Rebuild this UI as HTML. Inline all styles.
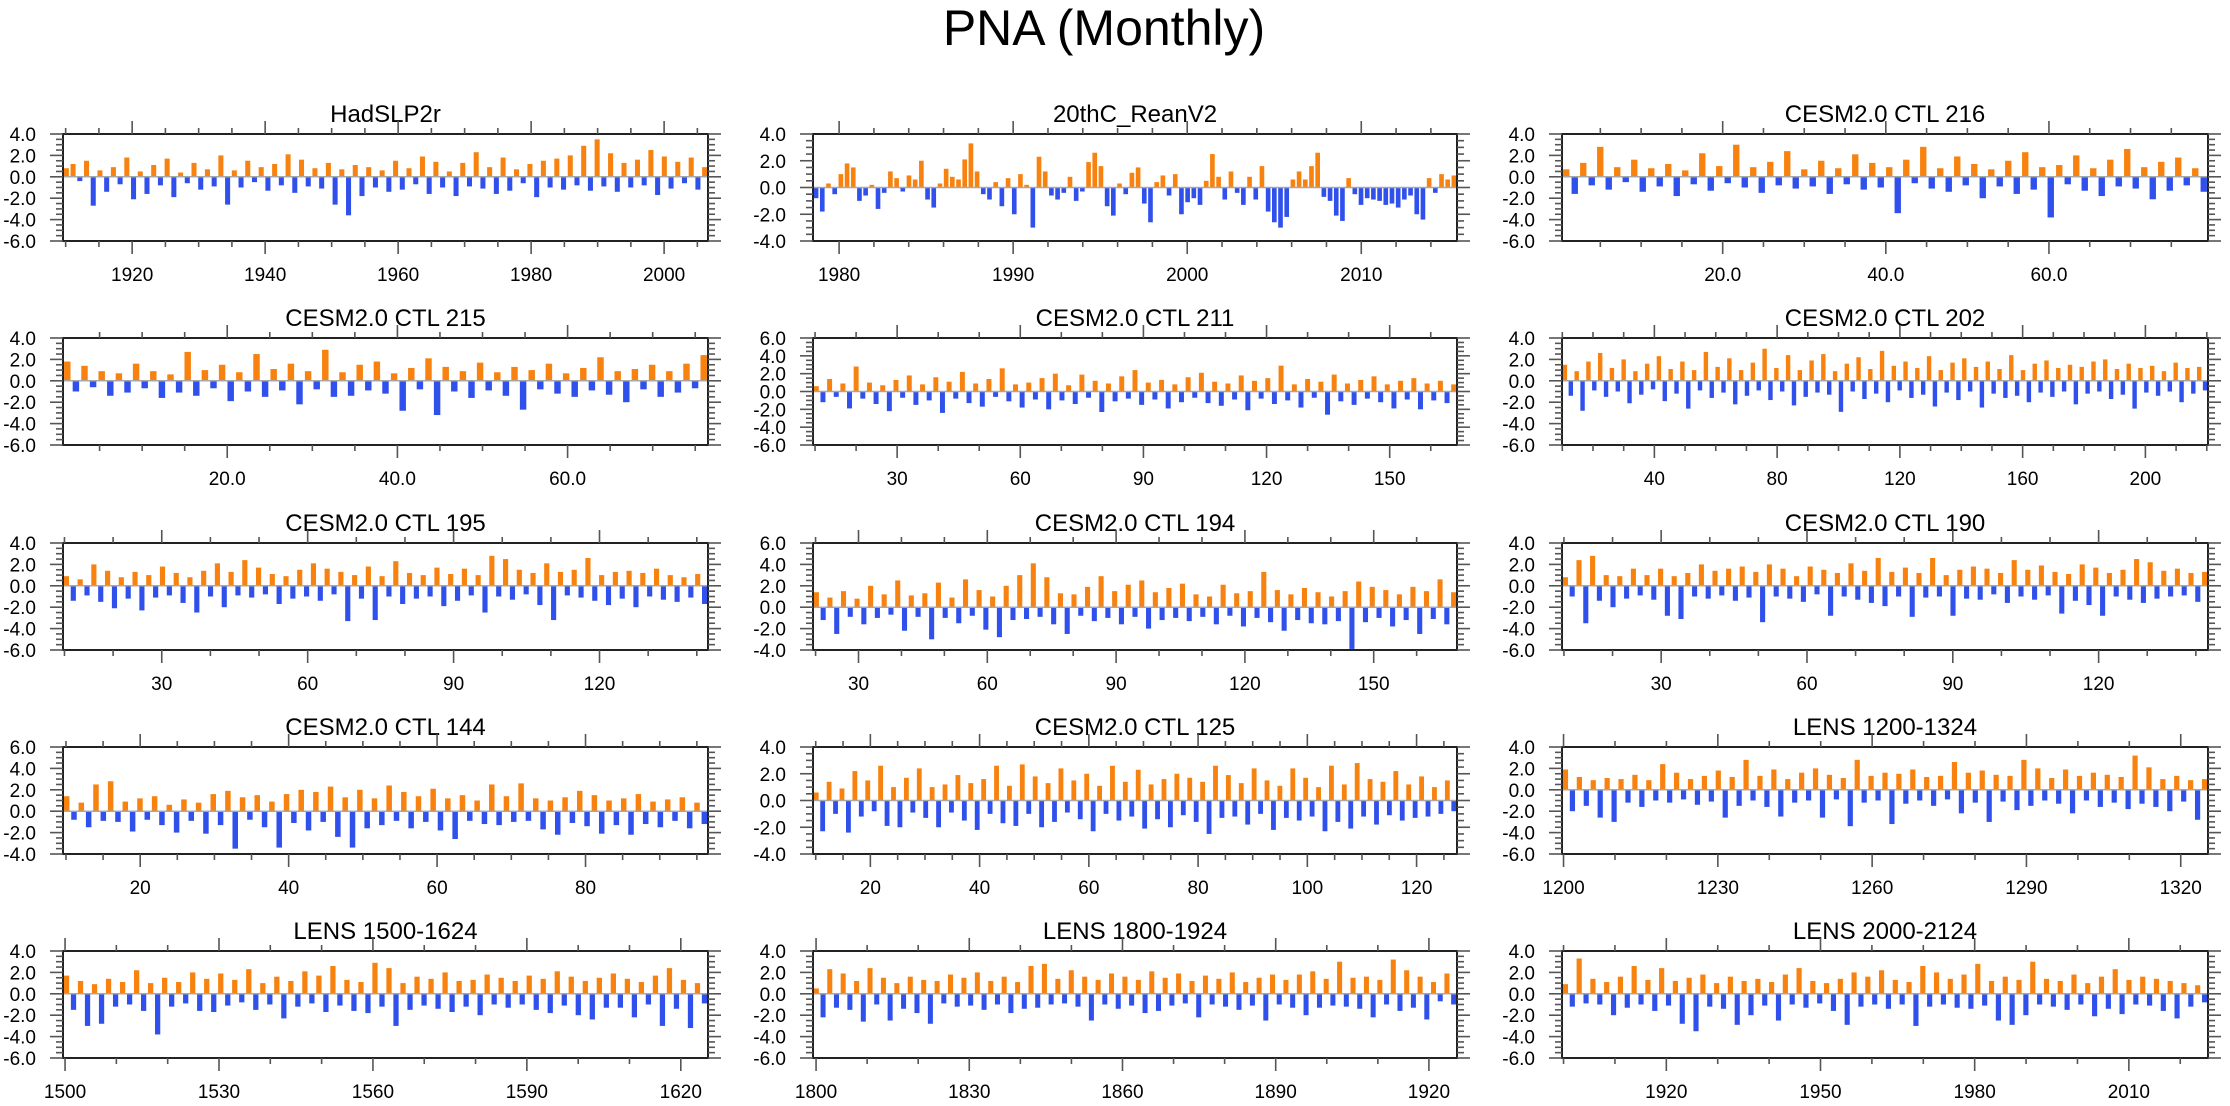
<!DOCTYPE html>
<html><head><meta charset="utf-8"><title>PNA (Monthly)</title>
<style>
html,body{margin:0;padding:0;background:#fff;}
svg{display:block;font-family:"Liberation Sans",Arial,sans-serif;}
</style></head>
<body>
<svg id="chart" width="2230" height="1106" viewBox="0 0 2230 1106" xmlns="http://www.w3.org/2000/svg">
<rect x="0" y="0" width="2230" height="1106" fill="#fff"/>
<text x="1104" y="45" font-size="50" text-anchor="middle" fill="#000">PNA (Monthly)</text>
</svg>
<script>
// ---- data ----
const panelTitles = ["HadSLP2r","20thC_ReanV2","CESM2.0 CTL 216","CESM2.0 CTL 215","CESM2.0 CTL 211","CESM2.0 CTL 202","CESM2.0 CTL 195","CESM2.0 CTL 194","CESM2.0 CTL 190","CESM2.0 CTL 144","CESM2.0 CTL 125","LENS 1200-1324","LENS 1500-1624","LENS 1800-1924","LENS 2000-2124"];
const dataStart = [1909.6,1978.5,0.3,0.7,9.5,9.9,9.7,19.4,9.6,9.6,9.5,1199.7,1499.6,1799.4,1899.7];
const dataEnd   = [2006.6,2015.5,79.5,76.5,166.4,220.4,142.3,169.4,142.5,96.5,127.4,1325.3,1625.3,1925.5,2025.4];
const yMinList = [-6,-4,-6,-6,-6,-6,-6,-4,-6,-4,-4,-6,-6,-6,-6];
const yMaxList = [4,4,4,4,6,4,4,6,4,6,4,4,4,4,4];
const tickStartList = [1920,1980,20,20,30,40,30,30,30,20,20,1200,1500,1800,1920];
const tickStepList  = [20,10,20,20,30,40,30,30,30,20,20,30,30,30,30];
const minorStepList = [5,2,5,5,10,10,10,10,10,5,5,10,10,10,10];
const tickDecimals  = [0,0,1,1,0,0,0,0,0,0,0,0,0,0,0];

const v0 = [0.8,1.2,-0.4,1.5,-2.7,0.6,-1.4,0.9,-0.7,1.8,-2.1,0.5,-1.6,1.1,-0.8,1.7,-1.9,0.4,-0.6,1.3,-1.2,0.7,-0.9,2.0,-2.6,0.6,-1.0,1.5,-0.5,0.9,-1.3,1.2,-0.8,2.1,-1.5,1.6,-0.9,0.8,-1.1,1.3,-2.6,0.7,-3.6,1.1,-1.8,0.9,-1.0,0.6,-1.4,1.5,-1.2,0.8,-0.7,1.9,-1.6,1.4,-1.0,0.5,-1.8,1.3,-0.9,2.3,-1.1,0.9,-1.6,1.8,-1.3,0.7,-0.6,1.2,-1.9,1.5,-1.0,1.7,-1.2,2.0,-0.8,2.9,-1.3,3.5,-0.9,2.2,-1.4,1.3,-1.0,1.6,-0.8,2.5,-1.7,1.9,-1.1,1.4,-0.6,1.8,-1.2,0.9];
const v1 = [-0.8,-1.8,0.3,-0.5,1.0,1.8,1.5,-1.0,-0.6,0.2,-1.6,-0.4,1.2,0.7,-0.3,0.9,0.6,2.0,-0.9,-1.5,0.3,1.4,0.8,0.6,2.1,3.3,1.2,-0.5,-0.9,0.4,-1.4,0.7,-2.0,1.0,0.2,-3.0,2.3,1.2,-0.6,-0.9,-0.4,0.8,-1.0,-0.3,1.9,2.6,1.6,-1.4,-2.1,0.3,-0.5,1.1,1.5,-1.2,-2.6,0.4,0.9,-0.6,1.0,-2.0,-1.1,-0.8,-1.3,0.5,2.5,0.8,-0.9,1.2,-0.4,-1.3,0.8,-0.9,1.6,-1.8,-2.6,-3.0,-2.2,0.6,1.2,0.6,1.6,2.6,-0.7,-1.0,-2.1,-2.5,0.7,-0.5,-1.3,-0.8,-0.9,-1.0,-1.3,-1.2,-1.5,-0.9,-0.6,-2.0,-2.4,0.7,-0.4,1.0,0.6,0.9];
const v2 = [0.7,-1.6,1.3,-0.8,2.8,-1.2,0.9,-0.5,1.6,-1.4,0.8,-0.9,1.2,-1.8,0.6,-0.7,2.2,-1.3,1.0,-0.6,3.0,-1.0,0.9,-1.5,1.4,-0.8,2.4,-1.1,0.7,-0.9,1.5,-1.6,0.8,-0.7,2.1,-1.2,1.3,-1.0,0.9,-3.4,1.6,-0.6,2.8,-1.1,0.8,-1.4,1.9,-0.8,1.2,-2.0,0.7,-0.9,1.5,-1.6,2.3,-1.2,0.9,-3.8,1.1,-0.7,2.0,-1.3,0.8,-1.8,1.6,-0.9,2.6,-1.1,0.9,-2.1,1.4,-1.3,1.8,-0.8,0.8,-1.4];
const v3 = [1.8,-1.0,1.4,-0.6,0.9,-1.4,0.7,-1.1,1.6,-0.7,0.9,-1.6,0.6,-1.1,2.7,-1.4,1.0,-0.7,1.5,-1.9,0.8,-1.0,2.5,-1.5,1.1,-0.9,1.6,-2.2,0.9,-0.8,2.9,-1.5,0.8,-1.4,1.5,-0.9,1.8,-1.2,0.7,-2.8,1.2,-0.8,2.1,-3.2,1.3,-1.0,0.9,-1.6,1.7,-0.9,0.8,-1.4,1.3,-2.7,1.0,-0.8,1.6,-1.2,0.7,-1.5,1.2,-0.9,2.2,-1.3,0.9,-2.0,1.1,-0.8,1.5,-1.5,0.9,-1.1,1.6,-0.7,2.4];
const v4 = [0.6,-1.2,1.4,-0.6,0.9,-1.9,2.8,-0.8,1.0,-1.4,0.7,-2.2,1.3,-0.7,1.8,-1.5,0.8,-1.0,1.6,-2.4,1.1,-0.8,2.2,-1.3,0.9,-1.7,1.4,-0.6,2.6,-1.1,0.8,-1.8,1.0,-0.9,1.5,-2.0,2.0,-1.0,0.7,-1.4,1.9,-0.7,1.2,-2.3,0.9,-1.1,1.7,-0.8,2.4,-1.5,1.0,-0.9,1.3,-1.9,0.8,-1.2,1.6,-0.7,2.1,-1.3,1.1,-1.6,0.9,-0.9,1.8,-2.1,1.2,-0.8,1.5,-1.4,2.9,-1.0,0.8,-1.8,1.4,-0.7,1.1,-2.6,1.9,-1.1,0.9,-1.5,1.3,-0.8,1.7,-1.2,0.8,-1.9,1.2,-0.9,1.5,-2.0,0.9,-1.0,1.2,-1.3,0.8];
const v5 = [1.5,-1.4,0.9,-2.8,1.8,-0.9,2.6,-1.5,1.2,-1.0,2.0,-2.1,0.9,-1.3,1.6,-0.8,2.3,-1.9,1.1,-1.2,1.8,-2.6,1.0,-0.9,2.7,-1.6,1.3,-1.1,2.1,-2.2,1.0,-1.4,1.7,-0.9,3.0,-1.8,1.2,-1.0,2.4,-2.3,1.0,-1.5,1.9,-1.1,2.5,-1.3,0.9,-2.9,1.6,-1.0,2.2,-1.7,1.1,-1.2,2.8,-2.0,1.4,-0.9,1.8,-1.6,1.2,-1.3,2.3,-2.4,1.0,-1.1,1.7,-1.8,2.1,-1.0,1.3,-2.5,1.8,-1.2,1.1,-1.6,2.4,-1.4,1.0,-2.0,1.6,-1.1,1.9,-1.5,1.2,-1.0,1.5,-2.2,1.3,-1.2,1.8,-1.0,2.0,-1.7,1.1,-1.3,1.6,-2.6,1.2,-1.1,1.4,-1.4,0.9,-1.0,1.7,-2.0,1.2,-1.2,1.3,-0.9];
const v6 = [0.9,-1.4,0.6,-0.9,2.0,-1.5,1.4,-2.1,0.8,-1.2,1.3,-2.3,1.0,-1.1,1.8,-0.9,1.2,-1.6,0.8,-2.5,1.4,-1.0,2.1,-2.0,1.3,-0.9,2.4,-1.1,1.7,-0.8,1.1,-1.7,0.9,-1.2,1.5,-1.0,2.1,-1.4,1.6,-0.8,1.3,-3.3,1.0,-1.2,1.8,-3.2,0.9,-1.0,2.3,-1.7,1.2,-1.2,1.0,-1.0,1.7,-1.9,1.1,-1.4,1.6,-0.9,1.0,-2.5,2.8,-1.0,2.5,-1.3,1.5,-0.8,1.2,-1.8,2.1,-3.2,1.3,-0.9,1.5,-1.1,2.6,-1.4,1.0,-1.8,1.3,-1.2,1.4,-2.0,1.2,-1.0,1.6,-1.3,1.0,-1.5,0.8,-1.1,1.1,-1.7];
const v7 = [1.4,-1.2,0.9,-2.5,1.5,-0.9,0.8,-1.6,2.0,-1.0,1.2,-0.7,2.5,-2.2,1.1,-0.9,1.3,-3.0,2.3,-1.0,0.9,-1.5,2.6,-0.8,1.6,-2.1,1.0,-2.8,2.0,-1.2,3.0,-1.1,4.1,-0.9,2.8,-1.6,1.3,-2.5,1.2,-0.8,1.9,-1.3,2.9,-1.0,1.5,-1.6,2.1,-0.9,2.5,-2.0,1.4,-1.2,1.8,-1.0,2.2,-1.3,1.2,-0.9,1.0,-1.6,2.1,-0.8,1.3,-1.8,1.5,-1.0,3.3,-1.4,1.6,-2.2,1.2,-1.2,1.8,-1.5,1.4,-1.6,1.0,-1.3,1.5,-3.9,2.4,-1.4,1.9,-1.0,1.6,-1.8,1.2,-1.2,1.9,-2.5,1.5,-1.1,2.6,-1.6,1.4];
const v8 = [0.8,-1.0,2.4,-3.5,2.8,-1.4,1.0,-2.0,0.9,-1.2,1.6,-0.9,1.0,-1.3,1.6,-2.8,0.9,-3.1,1.2,-1.0,2.0,-1.2,1.4,-0.9,1.6,-1.4,1.8,-1.1,1.3,-3.4,2.0,-1.0,1.6,-1.2,0.9,-1.5,1.8,-0.8,1.5,-2.8,1.2,-1.0,2.1,-1.3,1.4,-1.6,2.6,-1.9,1.3,-1.0,1.7,-2.9,1.2,-1.1,2.6,-1.0,1.0,-2.8,1.5,-1.2,1.8,-1.3,1.6,-0.8,1.2,-1.6,2.4,-1.0,1.5,-1.3,1.9,-0.9,1.3,-2.6,1.1,-1.4,2.0,-1.8,1.7,-2.8,1.2,-1.0,1.5,-1.3,2.5,-1.6,2.2,-1.2,1.4,-1.0,1.6,-0.9,1.2,-1.5,1.3];
const v9 = [1.4,-0.8,0.8,-1.5,2.5,-0.9,2.8,-1.0,0.9,-1.9,1.2,-0.8,1.4,-1.3,0.6,-2.0,1.1,-0.9,0.8,-2.1,1.6,-1.3,1.9,-3.5,1.3,-0.8,1.5,-1.5,0.9,-3.4,1.6,-1.1,2.0,-1.8,1.8,-1.0,2.3,-2.4,1.3,-3.4,2.0,-1.6,1.2,-1.3,2.4,-0.9,1.8,-1.6,1.4,-1.0,2.1,-1.8,1.2,-2.6,1.5,-0.9,1.0,-1.2,2.5,-1.3,1.4,-1.0,2.6,-0.9,1.2,-1.7,1.0,-2.2,1.3,-1.1,1.9,-1.4,1.5,-2.1,1.0,-1.3,1.2,-2.2,1.6,-1.2,0.9,-1.5,1.1,-0.9,1.3,-1.6,0.8,-1.2];
const v10 = [0.6,-2.3,1.4,-1.0,0.9,-2.4,2.2,-1.2,1.5,-0.8,2.6,-1.9,1.0,-2.0,1.7,-0.9,2.4,-1.3,1.0,-2.0,1.2,-0.9,1.9,-1.5,1.3,-2.2,1.6,-1.0,2.6,-1.7,1.1,-1.9,2.7,-1.0,1.8,-2.0,1.3,-1.6,2.4,-0.9,1.5,-1.4,2.0,-2.3,1.1,-1.0,2.6,-1.5,1.4,-1.2,2.3,-2.1,1.2,-1.4,1.6,-2.0,2.0,-1.1,1.7,-1.6,1.4,-2.5,2.6,-1.3,1.9,-1.2,1.3,-1.8,2.4,-1.0,1.5,-2.2,1.1,-1.3,2.4,-1.5,1.7,-1.2,1.0,-2.3,2.6,-1.6,1.2,-2.1,2.8,-1.2,1.6,-1.8,1.4,-1.1,2.2,-1.5,1.2,-1.3,1.8,-1.2,1.0,-1.0,1.5,-0.8];
const v11 = [1.9,-2.0,1.2,-1.5,0.9,-2.6,1.1,-3.0,1.0,-1.2,1.4,-1.6,0.9,-1.0,2.4,-1.2,1.6,-0.9,1.0,-1.4,1.3,-1.1,1.8,-2.6,1.2,-1.5,2.8,-1.0,1.3,-1.6,1.9,-2.5,1.0,-1.2,1.6,-1.0,2.0,-2.6,1.4,-0.9,1.1,-3.4,2.8,-1.2,1.3,-1.0,1.6,-3.2,1.5,-1.3,1.9,-1.0,1.2,-1.5,1.3,-0.9,2.6,-2.2,1.6,-1.2,1.8,-3.0,1.4,-1.1,1.3,-1.9,2.8,-1.5,2.0,-1.0,1.1,-1.3,1.9,-2.2,1.3,-1.0,1.6,-1.6,1.4,-1.2,1.2,-1.8,3.2,-1.3,2.1,-1.6,1.0,-2.0,1.3,-1.1,0.9,-2.8,1.0];
const v12 = [1.7,-1.5,1.2,-3.0,0.9,-2.8,1.4,-1.2,1.1,-1.0,2.2,-1.6,1.0,-3.8,1.5,-1.2,1.1,-0.9,2.0,-1.6,1.4,-1.7,1.9,-1.1,1.3,-0.8,2.3,-1.5,1.0,-1.0,1.6,-2.3,1.2,-1.2,2.1,-0.9,1.7,-1.7,2.6,-1.1,1.3,-1.6,1.1,-1.8,2.9,-1.2,2.4,-3.0,1.0,-1.5,1.6,-1.1,1.4,-1.4,2.0,-1.7,1.2,-1.2,1.3,-2.0,1.8,-1.0,1.5,-1.3,1.2,-1.0,1.7,-1.5,1.4,-1.8,2.1,-1.1,1.6,-2.0,1.2,-2.4,1.5,-1.3,1.9,-1.3,1.4,-2.2,1.1,-1.0,1.7,-3.0,2.4,-1.4,1.3,-3.2,1.0,-0.9];
const v13 = [0.5,-2.2,2.3,-1.3,1.9,-1.5,1.2,-2.6,2.4,-1.0,1.5,-2.5,1.0,-1.4,1.6,-1.8,1.3,-2.8,1.2,-0.9,1.8,-1.2,1.5,-1.1,2.0,-1.5,1.2,-1.0,1.6,-1.8,1.1,-1.4,2.6,-1.3,2.8,-1.0,1.4,-0.9,2.2,-1.2,1.6,-2.5,1.3,-1.0,1.9,-1.4,1.6,-1.1,1.3,-1.8,2.1,-1.6,1.5,-1.1,1.9,-0.9,1.2,-2.2,1.7,-1.0,1.4,-1.2,2.0,-1.5,1.1,-1.1,1.5,-2.5,1.8,-1.0,1.3,-1.3,1.8,-2.0,2.1,-1.3,1.4,-1.1,3.0,-1.2,1.5,-1.4,1.6,-2.2,1.3,-1.0,3.2,-1.6,2.2,-1.3,1.6,-2.4,1.1,-0.7,1.9,-1.0];
const v14 = [0.9,-1.2,3.3,-0.9,1.4,-1.0,1.1,-2.0,1.6,-1.3,2.6,-1.0,1.3,-1.6,2.4,-1.1,1.2,-2.8,1.5,-3.5,1.8,-1.2,1.0,-1.4,1.6,-2.9,1.2,-2.0,1.4,-1.1,1.1,-2.5,1.8,-1.0,2.4,-1.3,1.2,-0.9,1.0,-1.6,1.4,-2.9,2.0,-1.2,1.6,-1.0,2.2,-1.4,1.3,-1.0,1.1,-3.0,2.6,-1.2,2.0,-1.0,1.4,-1.3,1.8,-1.4,2.8,-1.1,1.2,-2.5,1.6,-2.9,1.3,-2.0,3.0,-1.0,1.4,-1.2,1.2,-1.5,1.8,-1.0,1.0,-2.1,1.6,-1.4,2.3,-1.9,1.3,-1.0,1.6,-1.1,1.4,-1.6,1.2,-2.3,1.0,-1.2,0.8,-0.8];
const panelValues = [v0,v1,v2,v3,v4,v5,v6,v7,v8,v9,v10,v11,v12,v13,v14];

// ---- layout ----
const colLeft = [63, 813, 1562];
const colRight = [708, 1457, 2208];
const rowTop = [134, 338, 543, 747, 951];
const PH = 107;
const NS = "http://www.w3.org/2000/svg";
const svg = document.getElementById("chart");

function mk(tag, attrs, parent) {
  const el = document.createElementNS(NS, tag);
  for (const k in attrs) el.setAttribute(k, attrs[k]);
  parent.appendChild(el);
  return el;
}

for (let p = 0; p < 15; p++) {
  const r = Math.floor(p / 3), c = p % 3;
  const L = colLeft[c], R = colRight[c], T = rowTop[r], B = T + PH;
  const x0 = dataStart[p], x1 = dataEnd[p];
  const yMin = yMinList[p], yMax = yMaxList[p];
  const xs = v => L + (v - x0) / (x1 - x0) * (R - L);
  const ys = v => B - (v - yMin) / (yMax - yMin) * PH;

  const g = mk("g", {}, svg);
  
  

  const title = mk("text", {x: (L + R) / 2, y: T - 12, "font-size": 24, "text-anchor": "middle", fill: "#000"}, g);
  title.textContent = panelTitles[p];
  
  

  const vals = panelValues[p];
  const n = vals.length;
  const sp = (R - L) / n;
  const bw = Math.max(1.6, sp * 0.75);
  const barsG = mk("g", {}, g);
  
  
  for (let i = 0; i < n; i++) {
    const xv = x0 + (i + 0.5) * (x1 - x0) / n;
    const cx = xs(xv);
    const y0 = ys(0), yv = ys(vals[i]);
    const bar = mk("rect", {x: cx - bw / 2, y: Math.min(y0, yv), width: bw, height: Math.abs(yv - y0), fill: vals[i] >= 0 ? "#f7820f" : "#3050ec"}, barsG);
    
    
  }
  const zl = mk("line", {x1: L, x2: R, y1: ys(0), y2: ys(0), stroke: "#a8a8a8", "stroke-width": 1.5}, g);
  
  

  const fr = mk("rect", {x: L, y: T, width: R - L, height: PH, fill: "none", stroke: "#222", "stroke-width": 2}, g);
  
  

  const axY = mk("g", {stroke: "#555", "stroke-width": 1.6}, g);
  
  
  for (let v = yMin; v <= yMax + 1e-6; v += 0.5) {
    const yy = ys(v);
    const major = Math.abs(v - Math.round(v / 2) * 2) < 1e-6;
    const len = major ? 13 : 7;
    mk("line", {x1: L - len, x2: L, y1: yy, y2: yy}, axY);
    mk("line", {x1: R, x2: R + len, y1: yy, y2: yy}, axY);
    if (major) {
      const t = mk("text", {x: L - 27, y: yy + 7, "font-size": 19, "text-anchor": "end", fill: "#000", stroke: "none"}, g);
      t.textContent = v.toFixed(1);
      
      
    }
  }
  const axX = mk("g", {stroke: "#555", "stroke-width": 1.6}, g);
  
  
  const ms = minorStepList[p], ts = tickStepList[p], t0 = tickStartList[p];
  for (let v = Math.ceil(x0 / ms) * ms; v <= x1; v += ms) {
    const xx = xs(v);
    const major = Math.abs(((v - t0) / ts) - Math.round((v - t0) / ts)) < 1e-6;
    const len = major ? 13 : 6;
    mk("line", {x1: xx, x2: xx, y1: B, y2: B + len}, axX);
    mk("line", {x1: xx, x2: xx, y1: T - len, y2: T}, axX);
    if (major && v >= t0) {
      const t = mk("text", {x: xx, y: B + 40, "font-size": 19, "text-anchor": "middle", fill: "#000", stroke: "none"}, g);
      t.textContent = v.toFixed(tickDecimals[p]);
      
      
    }
  }
}
</script>
</body></html>
